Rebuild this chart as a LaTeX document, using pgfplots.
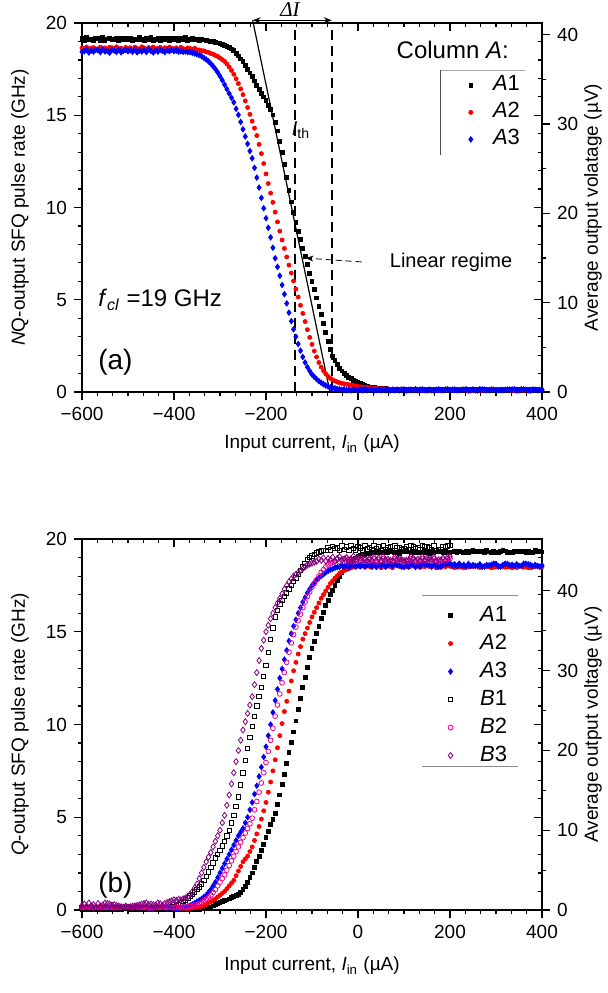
\documentclass[border=0pt]{standalone}
\usepackage{fontspec}
\setmainfont{Liberation Sans}
\newfontfamily\seriffont{Liberation Serif}
\usepackage{pgfplots}
\pgfplotsset{compat=1.18}
\usepackage{pgfplotstable}
\usetikzlibrary{arrows.meta}
\definecolor{bthree}{RGB}{128,0,128}

% panel (a): NQ output, columns A1 A2 A3 (GHz)
\pgfplotstableread{
I A1 A2 A3
-600 19.16 18.65 18.44
-595 19.06 18.57 18.47
-590 19.21 18.70 18.55
-585 19.10 18.55 18.40
-580 19.13 18.64 18.51
-575 19.03 18.67 18.45
-570 19.18 18.58 18.54
-565 19.15 18.61 18.52
-560 19.07 18.69 18.42
-555 19.20 18.54 18.57
-550 19.05 18.65 18.46
-545 19.14 18.59 18.49
-540 19.17 18.68 18.39
-535 19.08 18.66 18.54
-530 19.11 18.56 18.51
-525 19.19 18.71 18.43
-520 19.04 18.60 18.56
-515 19.15 18.63 18.41
-510 19.09 18.53 18.50
-505 19.18 18.68 18.53
-500 19.10 18.60 18.47
-495 19.19 18.66 18.52
-490 19.05 18.55 18.44
-485 19.14 18.69 18.55
-480 19.08 18.62 18.41
-475 19.22 18.58 18.50
-470 19.12 18.71 18.46
-465 19.03 18.64 18.53
-460 19.17 18.56 18.43
-455 19.09 18.67 18.57
-450 19.20 18.61 18.48
-445 19.06 18.70 18.40
-440 19.13 18.57 18.51
-435 19.18 18.63 18.45
-430 19.04 18.68 18.54
-425 19.15 18.54 18.49
-420 19.11 18.66 18.42
-415 19.19 18.60 18.52
-410 19.07 18.69 18.47
-405 19.16 18.62 18.55
-400 19.12 18.60 18.48
-395 19.18 18.66 18.50
-390 19.06 18.58 18.45
-385 19.15 18.68 18.47
-380 19.09 18.61 18.44
-375 19.20 18.56 18.46
-370 19.04 18.65 18.42
-365 19.13 18.62 18.43
-360 19.17 18.57 18.38
-355 19.08 18.63 18.35
-350 19.14 18.55 18.30
-345 19.06 18.54 18.26
-340 19.12 18.50 18.20
-335 19.08 18.49 18.11
-330 19.05 18.43 18.02
-325 19.03 18.41 17.92
-320 19.00 18.35 17.80
-315 18.99 18.31 17.66
-310 18.95 18.24 17.50
-305 18.92 18.19 17.32
-300 18.90 18.10 17.12
-295 18.85 18.02 16.90
-290 18.80 17.92 16.66
-285 18.75 17.78 16.42
-280 18.68 17.62 16.18
-275 18.60 17.43 15.95
-270 18.50 17.22 15.70
-265 18.36 16.98 15.35
-260 18.22 16.72 15.02
-255 18.06 16.43 14.64
-250 17.90 16.12 14.24
-245 17.70 15.78 13.85
-240 17.50 15.42 13.45
-235 17.30 15.05 13.06
-230 17.10 14.68 12.67
-225 16.86 14.30 12.15
-220 16.60 13.90 11.62
-215 16.40 13.42 11.08
-210 16.20 12.92 10.52
-205 16.00 12.38 9.96
-200 15.80 11.82 9.42
-195 15.55 11.30 8.90
-190 15.30 10.78 8.38
-185 15.02 10.28 7.82
-180 14.62 9.75 7.25
-175 14.15 9.22 6.78
-170 13.60 8.72 6.30
-165 12.98 8.24 5.80
-160 12.32 7.78 5.30
-155 11.62 7.32 4.80
-150 10.92 6.88 4.30
-145 10.30 6.45 3.84
-140 9.72 6.02 3.40
-135 9.20 5.58 3.00
-130 8.72 5.15 2.60
-125 8.26 4.70 2.24
-120 7.80 4.26 1.90
-115 7.34 3.82 1.60
-110 6.90 3.38 1.35
-105 6.44 2.96 1.14
-100 6.00 2.58 0.95
-95 5.55 2.22 0.82
-90 5.10 1.90 0.70
-85 4.65 1.60 0.59
-80 4.20 1.35 0.50
-75 3.70 1.15 0.42
-70 3.22 0.98 0.35
-65 2.74 0.85 0.30
-60 2.30 0.74 0.25
-55 1.96 0.66 0.22
-50 1.70 0.60 0.20
-45 1.48 0.54 0.17
-40 1.30 0.50 0.15
-35 1.14 0.47 0.12
-30 1.00 0.44 0.15
-25 0.90 0.42 0.10
-20 0.80 0.40 0.13
-15 0.72 0.37 0.09
-10 0.65 0.35 0.14
-5 0.57 0.32 0.11
0 0.50 0.30 0.08
5 0.45 0.28 0.13
10 0.40 0.27 0.10
15 0.35 0.26 0.15
20 0.31 0.25 0.09
25 0.28 0.23 0.12
30 0.25 0.22 0.14
35 0.24 0.21 0.08
40 0.22 0.20 0.11
45 0.21 0.18 0.13
50 0.20 0.16 0.09
55 0.19 0.19 0.12
60 0.18 0.14 0.10
65 0.17 0.17 0.15
70 0.16 0.13 0.08
75 0.15 0.16 0.12
80 0.13 0.11 0.10
85 0.16 0.14 0.13
90 0.11 0.12 0.09
95 0.14 0.17 0.12
100 0.10 0.13 0.14
105 0.15 0.10 0.08
110 0.12 0.15 0.11
115 0.09 0.12 0.13
120 0.14 0.09 0.10
125 0.11 0.14 0.15
130 0.16 0.11 0.09
135 0.10 0.16 0.12
140 0.13 0.10 0.14
145 0.08 0.13 0.10
150 0.15 0.12 0.08
155 0.12 0.10 0.13
160 0.09 0.14 0.10
165 0.14 0.11 0.08
170 0.11 0.15 0.12
175 0.15 0.09 0.14
180 0.10 0.13 0.11
185 0.13 0.12 0.09
190 0.08 0.16 0.13
195 0.12 0.10 0.15
200 0.14 0.13 0.10
205 0.11 0.15 0.12
210 0.08 0.16 0.13
215 0.09 0.14 0.10
220 0.14 0.13 0.10
225 0.10 0.13 0.11
230 0.12 0.10 0.13
235 0.12 0.10 0.15
240 0.14 0.11 0.08
245 0.13 0.12 0.09
250 0.15 0.09 0.14
255 0.13 0.12 0.09
260 0.14 0.11 0.08
265 0.12 0.10 0.15
270 0.15 0.09 0.14
275 0.12 0.10 0.13
280 0.14 0.13 0.10
285 0.09 0.14 0.10
290 0.08 0.16 0.13
295 0.11 0.15 0.12
300 0.10 0.13 0.11
305 0.09 0.14 0.10
310 0.10 0.13 0.11
315 0.14 0.13 0.10
320 0.11 0.15 0.12
325 0.08 0.16 0.13
330 0.12 0.10 0.13
335 0.15 0.09 0.14
340 0.12 0.10 0.15
345 0.14 0.11 0.08
350 0.13 0.12 0.09
355 0.12 0.10 0.15
360 0.15 0.09 0.14
365 0.12 0.10 0.13
370 0.13 0.12 0.09
375 0.14 0.11 0.08
380 0.08 0.16 0.13
385 0.11 0.15 0.12
390 0.14 0.13 0.10
395 0.10 0.13 0.11
400 0.09 0.14 0.10
}\tabNQ

% panel (b): Q output, columns A and B (GHz)
\pgfplotstableread{
I A1 A2 A3 B1 B2 B3
-600 0.04 0.07 0.10 0.12 0.16 0.25
-595 0.06 0.09 0.08 0.14 0.13 0.32
-590 0.03 0.06 0.12 0.10 0.17 0.18
-585 0.05 0.10 0.09 0.13 0.14 0.38
-580 0.07 0.08 0.11 0.11 0.18 0.22
-575 0.04 0.05 0.13 0.15 0.12 0.29
-570 0.06 0.09 0.10 0.09 0.16 0.15
-565 0.03 0.07 0.08 0.12 0.15 0.35
-560 0.05 0.11 0.12 0.14 0.13 0.21
-555 0.04 0.08 0.09 0.10 0.17 0.27
-550 0.05 0.10 0.09 0.13 0.14 0.38
-545 0.03 0.07 0.08 0.12 0.15 0.35
-540 0.06 0.09 0.08 0.14 0.13 0.32
-535 0.04 0.08 0.09 0.10 0.17 0.27
-530 0.04 0.05 0.13 0.15 0.12 0.29
-525 0.04 0.07 0.10 0.12 0.16 0.25
-520 0.05 0.11 0.12 0.14 0.13 0.21
-515 0.03 0.06 0.12 0.10 0.17 0.18
-510 0.06 0.09 0.10 0.09 0.16 0.15
-505 0.07 0.08 0.11 0.11 0.18 0.22
-500 0.06 0.09 0.10 0.09 0.16 0.15
-495 0.03 0.06 0.12 0.10 0.17 0.18
-490 0.05 0.11 0.12 0.14 0.13 0.21
-485 0.07 0.08 0.11 0.11 0.18 0.22
-480 0.04 0.07 0.10 0.12 0.16 0.25
-475 0.04 0.08 0.09 0.10 0.17 0.27
-470 0.06 0.09 0.08 0.14 0.13 0.32
-465 0.03 0.07 0.08 0.12 0.15 0.35
-460 0.05 0.10 0.09 0.13 0.14 0.38
-455 0.04 0.05 0.13 0.15 0.12 0.29
-450 0.06 0.09 0.08 0.14 0.13 0.32
-445 0.04 0.05 0.13 0.15 0.12 0.29
-440 0.04 0.08 0.09 0.10 0.17 0.27
-435 0.05 0.10 0.09 0.13 0.14 0.38
-430 0.03 0.07 0.08 0.12 0.15 0.35
-425 0.04 0.07 0.10 0.12 0.16 0.25
-420 0.05 0.08 0.11 0.13 0.15 0.35
-415 0.04 0.07 0.09 0.15 0.14 0.40
-410 0.06 0.09 0.12 0.12 0.16 0.45
-405 0.05 0.08 0.10 0.16 0.13 0.50
-400 0.04 0.10 0.11 0.20 0.15 0.55
-395 0.06 0.07 0.12 0.25 0.16 0.52
-390 0.05 0.09 0.10 0.30 0.14 0.58
-385 0.04 0.08 0.13 0.38 0.15 0.55
-380 0.06 0.10 0.15 0.45 0.16 0.60
-375 0.05 0.09 0.17 0.55 0.15 0.65
-370 0.04 0.08 0.20 0.65 0.18 0.72
-365 0.06 0.10 0.25 0.75 0.20 0.85
-360 0.05 0.12 0.30 0.85 0.22 1.00
-355 0.04 0.13 0.37 0.97 0.26 1.20
-350 0.06 0.15 0.45 1.10 0.30 1.40
-345 0.05 0.18 0.52 1.25 0.35 1.70
-340 0.06 0.20 0.60 1.40 0.40 2.00
-335 0.07 0.25 0.70 1.60 0.50 2.30
-330 0.10 0.30 0.80 1.80 0.60 2.60
-325 0.12 0.37 0.95 2.05 0.70 2.85
-320 0.15 0.45 1.10 2.30 0.80 3.10
-315 0.22 0.52 1.30 2.55 0.95 3.40
-310 0.30 0.60 1.50 2.80 1.10 3.70
-305 0.35 0.70 1.75 3.00 1.30 4.00
-300 0.40 0.80 2.00 3.20 1.50 4.30
-295 0.45 0.90 2.25 3.45 1.70 4.70
-290 0.50 1.00 2.50 3.70 1.90 5.10
-285 0.55 1.15 2.75 4.00 2.15 5.65
-280 0.60 1.30 3.00 4.30 2.40 6.20
-275 0.68 1.45 3.25 4.70 2.65 6.80
-270 0.75 1.60 3.50 5.10 2.90 7.40
-265 0.80 1.85 3.75 5.60 3.15 8.00
-260 0.85 2.10 4.00 6.10 3.40 8.60
-255 0.95 2.35 4.20 6.75 3.65 9.15
-250 1.10 2.60 4.40 7.40 3.90 9.70
-245 1.28 2.75 4.70 8.05 4.15 10.15
-240 1.50 2.90 5.00 8.70 4.40 10.60
-235 1.74 3.15 5.40 9.30 4.65 11.05
-230 2.00 3.40 5.80 9.90 4.95 11.50
-225 2.30 3.75 6.25 10.45 5.40 12.15
-220 2.60 4.10 6.70 11.00 5.85 12.80
-215 2.90 4.50 7.20 11.50 6.35 13.45
-210 3.20 4.90 7.70 12.00 6.85 14.10
-205 3.55 5.35 8.25 12.60 7.40 14.55
-200 3.90 5.80 8.80 13.20 7.95 15.00
-195 4.25 6.35 9.40 13.90 8.55 15.35
-190 4.60 6.90 10.00 14.60 9.15 15.70
-185 4.90 7.50 10.65 15.20 9.80 16.00
-180 5.20 8.10 11.30 15.80 10.45 16.30
-175 5.70 8.75 11.90 16.15 11.05 16.55
-170 6.20 9.40 12.50 16.50 11.65 16.80
-165 6.75 10.05 13.00 16.70 12.25 17.05
-160 7.30 10.70 13.50 16.90 12.80 17.30
-155 7.90 11.25 14.00 17.10 13.35 17.50
-150 8.50 11.80 14.50 17.30 13.90 17.70
-145 9.05 12.35 14.90 17.50 14.40 17.85
-140 9.60 12.90 15.30 17.70 14.85 18.00
-135 10.20 13.35 15.65 17.90 15.25 18.10
-130 10.80 13.80 16.00 18.10 15.60 18.20
-125 11.40 14.20 16.30 18.30 15.95 18.30
-120 12.00 14.60 16.60 18.50 16.30 18.40
-115 12.55 14.90 16.85 18.70 16.60 18.50
-110 13.10 15.20 17.10 18.90 16.90 18.60
-105 13.60 15.50 17.30 19.00 17.15 18.65
-100 14.10 15.80 17.50 19.10 17.40 18.70
-95 14.50 16.05 17.65 19.18 17.60 18.75
-90 14.90 16.30 17.80 19.25 17.80 18.80
-85 15.30 16.55 17.90 19.30 18.00 18.92
-80 15.70 16.80 18.00 19.35 18.20 18.85
-75 16.05 17.00 18.10 19.38 18.35 18.98
-70 16.40 17.20 18.20 19.40 18.50 18.82
-65 16.70 17.40 18.28 19.55 18.60 18.95
-60 17.00 17.60 18.35 19.42 18.70 18.88
-55 17.25 17.75 18.40 19.60 18.75 19.02
-50 17.50 17.90 18.45 19.48 18.80 18.80
-45 17.75 18.02 18.48 19.52 18.90 18.96
-40 18.00 18.15 18.50 19.38 18.78 19.05
-35 18.20 18.22 18.58 19.62 18.88 18.84
-30 18.40 18.30 18.52 19.45 18.95 18.92
-25 18.55 18.35 18.60 19.58 18.80 19.00
-20 18.70 18.40 18.48 19.40 18.92 18.78
-15 18.80 18.45 18.56 19.65 18.85 18.94
-10 18.90 18.50 18.62 19.50 18.76 19.08
-5 18.98 18.52 18.50 19.42 18.90 18.86
0 19.05 18.55 18.58 19.60 18.82 18.98
5 19.10 18.50 18.54 19.52 18.95 18.82
10 19.15 18.58 18.62 19.38 18.80 19.04
15 19.18 18.48 18.52 19.66 18.88 18.90
20 19.20 18.56 18.60 19.46 18.78 18.84
25 19.24 18.52 18.60 19.55 18.88 18.95
30 19.30 18.47 18.53 19.42 18.80 18.86
35 19.27 18.58 18.66 19.63 18.93 19.02
40 19.33 18.50 18.49 19.48 18.76 18.84
45 19.26 18.55 18.62 19.58 18.90 18.98
50 19.31 18.45 18.56 19.40 18.84 18.80
55 19.28 18.53 18.70 19.66 18.95 19.05
60 19.35 18.49 18.51 19.45 18.79 18.88
65 19.25 18.57 18.59 19.52 18.86 18.92
70 19.32 18.51 18.64 19.60 18.82 18.85
75 19.31 18.45 18.56 19.40 18.84 18.80
80 19.27 18.58 18.66 19.63 18.93 19.02
85 19.25 18.57 18.59 19.52 18.86 18.92
90 19.24 18.52 18.60 19.55 18.88 18.95
95 19.35 18.49 18.51 19.45 18.79 18.88
100 19.33 18.50 18.49 19.48 18.76 18.84
105 19.32 18.51 18.64 19.60 18.82 18.85
110 19.30 18.47 18.53 19.42 18.80 18.86
115 19.28 18.53 18.70 19.66 18.95 19.05
120 19.26 18.55 18.62 19.58 18.90 18.98
125 19.33 18.50 18.49 19.48 18.76 18.84
130 19.25 18.57 18.59 19.52 18.86 18.92
135 19.30 18.47 18.53 19.42 18.80 18.86
140 19.28 18.53 18.70 19.66 18.95 19.05
145 19.32 18.51 18.64 19.60 18.82 18.85
150 19.26 18.55 18.62 19.58 18.90 18.98
155 19.24 18.52 18.60 19.55 18.88 18.95
160 19.35 18.49 18.51 19.45 18.79 18.88
165 19.27 18.58 18.66 19.63 18.93 19.02
170 19.31 18.45 18.56 19.40 18.84 18.80
175 19.35 18.49 18.51 19.45 18.79 18.88
180 19.30 18.47 18.53 19.42 18.80 18.86
185 19.26 18.55 18.62 19.58 18.90 18.98
190 19.32 18.51 18.64 19.60 18.82 18.85
195 19.27 18.58 18.66 19.63 18.93 19.02
200 19.28 18.53 18.70 19.66 18.95 19.05
205 19.30 18.50 18.58 nan nan nan
210 19.34 18.46 18.64 nan nan nan
215 19.28 18.55 18.52 nan nan nan
220 19.36 18.48 18.67 nan nan nan
225 19.31 18.57 18.55 nan nan nan
230 19.27 18.45 18.61 nan nan nan
235 19.35 18.53 18.50 nan nan nan
240 19.29 18.49 18.66 nan nan nan
245 19.33 18.56 18.54 nan nan nan
250 19.38 18.51 18.60 nan nan nan
255 19.31 18.57 18.55 nan nan nan
260 19.33 18.56 18.54 nan nan nan
265 19.34 18.46 18.64 nan nan nan
270 19.35 18.53 18.50 nan nan nan
275 19.28 18.55 18.52 nan nan nan
280 19.38 18.51 18.60 nan nan nan
285 19.30 18.50 18.58 nan nan nan
290 19.27 18.45 18.61 nan nan nan
295 19.36 18.48 18.67 nan nan nan
300 19.29 18.49 18.66 nan nan nan
305 19.28 18.55 18.52 nan nan nan
310 19.35 18.53 18.50 nan nan nan
315 19.38 18.51 18.60 nan nan nan
320 19.36 18.48 18.67 nan nan nan
325 19.29 18.49 18.66 nan nan nan
330 19.30 18.50 18.58 nan nan nan
335 19.27 18.45 18.61 nan nan nan
340 19.33 18.56 18.54 nan nan nan
345 19.34 18.46 18.64 nan nan nan
350 19.31 18.57 18.55 nan nan nan
355 19.33 18.56 18.54 nan nan nan
360 19.36 18.48 18.67 nan nan nan
365 19.29 18.49 18.66 nan nan nan
370 19.34 18.46 18.64 nan nan nan
375 19.27 18.45 18.61 nan nan nan
380 19.28 18.55 18.52 nan nan nan
385 19.38 18.51 18.60 nan nan nan
390 19.31 18.57 18.55 nan nan nan
395 19.35 18.53 18.50 nan nan nan
400 19.30 18.50 18.58 nan nan nan
}\tabQ

\pgfplotsset{
  panel/.style={scale only axis, width=230pt, xmin=-600, xmax=400, ymin=0, ymax=20,
    xtick={-600,-400,...,400}, minor x tick num=5,
    ytick={0,5,...,20}, minor y tick num=4,
    axis line style={line width=0.6pt},
    every tick/.style={black, line width=0.6pt},
    major tick length=4pt, minor tick length=2.2pt,
    tick label style={font=\fontsize{9.5}{11}\selectfont},
    label style={font=\fontsize{9.5}{11}\selectfont}},
  front/.style={panel, tick align=outside, xtick pos=left, ytick pos=left,
    xticklabels={−600,−400,−200,0,200,400}, yticklabels={0,5,10,15,20},
    xlabel={Input current, \textit{I}\textsubscript{in} (µA)},
    ylabel style={at={(axis description cs:-0.135,0.5)}, anchor=center},
    clip=false,
    legend cell align=left},
  mirror/.style={panel, tick align=inside, xtick pos=right, ytick pos=right,
    xticklabels={}, yticklabels={}},
  volt/.style={scale only axis, width=230pt, xmin=-600, xmax=400, ymin=0,
    axis x line=none, axis y line*=right,
    ytick={0,10,...,40}, yticklabels={0,10,20,30,40}, minor y tick num=1,
    tick align=outside,
    axis line style={line width=0.6pt},
    every tick/.style={black, line width=0.6pt},
    major tick length=4pt, minor tick length=2.2pt,
    tick label style={font=\fontsize{9.5}{11}\selectfont},
    label style={font=\fontsize{9.5}{11}\selectfont},
    ylabel style={at={(axis description cs:1.111,0.5)}, anchor=center}},
  sA1/.style={only marks, black, mark=square*, mark size=0.95pt},
  sA2/.style={only marks, red, mark=*, mark size=1pt},
  sA3/.style={only marks, blue, mark=diamond*, mark size=1.35pt},
  sB1/.style={only marks, black, mark=square, mark size=1.1pt, mark options={line width=0.4pt}},
  sB2/.style={only marks, magenta, mark=o, mark size=1.2pt, mark options={line width=0.4pt}},
  sB3/.style={only marks, bthree, mark=diamond, mark size=1.5pt, mark options={line width=0.4pt}},
  legs/.style={legend style={draw=none, fill=none, anchor=north west, inner sep=0pt,
    font=\fontsize{11}{12}\selectfont, row sep=0pt,
    nodes={inner sep=2pt, text height=#1, text depth=2pt}}},
  legimg/.style={legend image code/.code={\path[draw=none, fill=none] (-0.1cm,0cm) -- (#1,0cm);
      \draw[##1, only marks] plot coordinates {(0cm,0cm)};}},
}

\begin{document}
\begin{tikzpicture}
% ---------- (a) ----------
\begin{axis}[mirror, at={(0,0)}, height=184.5pt]
\end{axis}
\begin{axis}[volt, at={(0,0)}, height=184.5pt, ymax=41.3,
  ylabel={Average output volatage (µV)}]
\end{axis}
\begin{axis}[front, at={(0,0)}, height=184.5pt,
  xlabel style={at={(axis description cs:0.5,-0.14)}, anchor=center},
  ylabel={\textit{N}Q-output SFQ pulse rate (GHz)},
  legs=7.5pt, legimg=0.32cm, legend style={at={(axis cs:232,17.37)}}]
\addplot[sA1] table[x=I, y=A1] {\tabNQ};
\addlegendentry{\textit{A}1}
\addplot[sA2] table[x=I, y=A2] {\tabNQ};
\addlegendentry{\textit{A}2}
\addplot[sA3] table[x=I, y=A3] {\tabNQ};
\addlegendentry{\textit{A}3}
% tangent and threshold marks
\draw[line width=0.6pt] (axis cs:-229,20.15) -- (axis cs:-61,0);
\draw[line width=0.8pt, dash pattern=on 5pt off 3pt] (axis cs:-137,0) -- (axis cs:-137,20);
\draw[line width=0.8pt, dash pattern=on 5pt off 3pt] (axis cs:-57,0) -- (axis cs:-57,20);
\draw[line width=0.5pt, {Stealth[length=4pt,width=3pt]}-{Stealth[length=4pt,width=3pt]}]
  (axis cs:-229,20.15) -- (axis cs:-57,20.15);
\node[font=\fontsize{10.5}{12}\selectfont\seriffont\itshape] at (axis cs:-148,20.75) {ΔI};
\node[font=\fontsize{10}{12}\selectfont] at (axis cs:-124,14.2) {\textit{I}\textsubscript{th}};
\draw[line width=0.4pt, dash pattern=on 3pt off 2pt, -{Stealth[length=4pt,width=3pt]}]
  (axis cs:8,7.05) -- (axis cs:-114,7.26);
\node[anchor=west, font=\fontsize{10}{12}\selectfont] at (axis cs:54,7.05) {Linear regime};
\node[anchor=west, font=\fontsize{12}{14}\selectfont] at (axis cs:-580,4.99)
  {\textit{f}\textsubscript{\textit{cl}} =19 GHz};
\node[anchor=west, font=\fontsize{14}{16}\selectfont] at (axis cs:-580,1.63) {(a)};
\node[font=\fontsize{12}{14}\selectfont] at (axis cs:206,18.54) {Column \textit{A}:};
\draw[line width=0.5pt, black!70] (axis cs:180,12.85) -- (axis cs:180,17.45);
\draw[line width=0.5pt, black!35] (axis cs:180,17.45) -- (axis cs:363,17.45);
\end{axis}

% ---------- (b) ----------
\begin{axis}[mirror, at={(0,-259pt)}, height=185.5pt]
\end{axis}
\begin{axis}[volt, at={(0,-259pt)}, height=185.5pt, ymax=46.5,
  ylabel={Average output voltage (µV)}]
\end{axis}
\begin{axis}[front, at={(0,-259pt)}, height=185.5pt,
  xlabel style={at={(axis description cs:0.5,-0.15)}, anchor=center},
  ylabel={\textit{Q}-output SFQ pulse rate (GHz)},
  legs=8pt, legimg=0.45cm, legend style={at={(axis cs:188,16.65)}}]
\addplot[sA1] table[x=I, y=A1] {\tabQ};
\addlegendentry{\textit{A}1}
\addplot[sA2] table[x=I, y=A2] {\tabQ};
\addlegendentry{\textit{A}2}
\addplot[sA3] table[x=I, y=A3] {\tabQ};
\addlegendentry{\textit{A}3}
\addplot[sB1] table[x=I, y=B1] {\tabQ};
\addlegendentry{\textit{B}1}
\addplot[sB2] table[x=I, y=B2] {\tabQ};
\addlegendentry{\textit{B}2}
\addplot[sB3] table[x=I, y=B3] {\tabQ};
\addlegendentry{\textit{B}3}
\node[anchor=west, font=\fontsize{14}{16}\selectfont] at (axis cs:-580,1.35) {(b)};
\draw[line width=0.5pt, black!45] (axis cs:139,16.97) -- (axis cs:348,16.97);
\draw[line width=0.5pt, black!45] (axis cs:139,7.73) -- (axis cs:348,7.73);
\end{axis}

\pgfresetboundingbox
\path (-41pt,196pt) rectangle (263pt,-300.5pt);
\end{tikzpicture}
\end{document}
